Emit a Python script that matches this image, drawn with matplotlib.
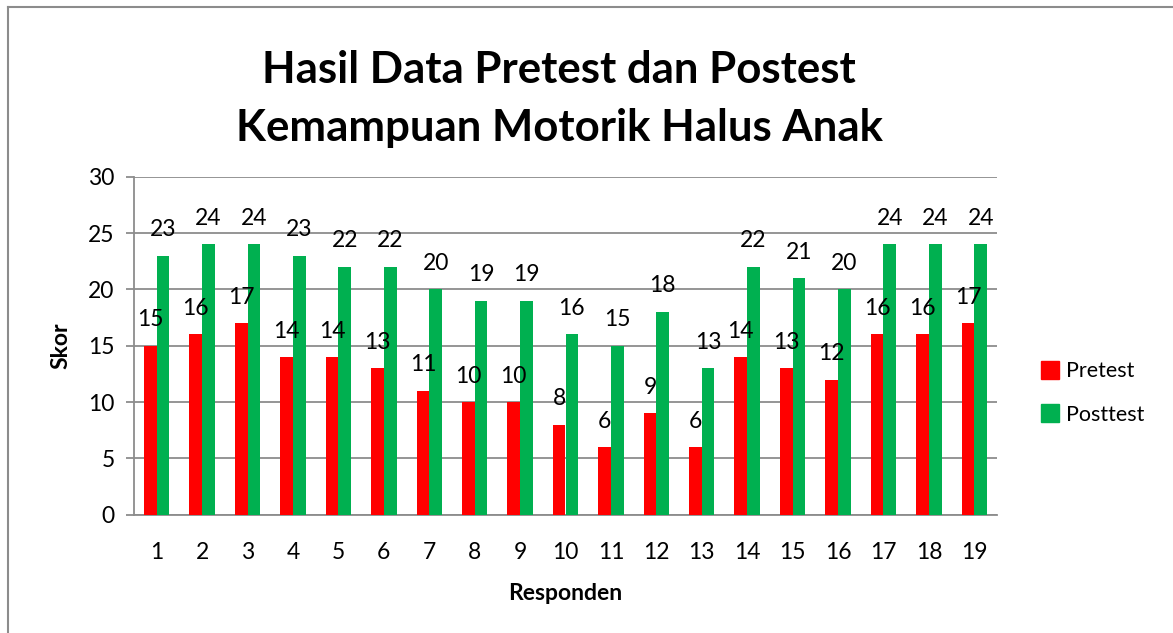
import numpy as np
import matplotlib
matplotlib.use("Agg")
import matplotlib.pyplot as plt
from matplotlib.lines import Line2D

plt.rcParams['font.family'] = ['Lato', 'DejaVu Sans']

responden = [str(i) for i in range(1, 20)]
pretest = [15, 16, 17, 14, 14, 13, 11, 10, 10, 8, 6, 9, 6, 14, 13, 12, 16, 16, 17]
posttest = [23, 24, 24, 23, 22, 22, 20, 19, 19, 16, 15, 18, 13, 22, 21, 20, 24, 24, 24]

W, H = 1173, 633
fig = plt.figure(figsize=(W / 100, H / 100), dpi=100)
ax = fig.add_axes([134 / W, 1 - 514.7 / H, (997 - 134) / W, (514.7 - 176.7) / H])

x = np.arange(len(responden))
bw = 0.28
b1 = ax.bar(x - bw / 2, pretest, bw, color='#FF0000', label='Pretest', zorder=3)
b2 = ax.bar(x + bw / 2, posttest, bw, color='#00B050', label='Posttest', zorder=3)

for bars in (b1, b2):
    for r in bars:
        ax.annotate(str(int(r.get_height())), (r.get_x() + r.get_width() / 2, r.get_height()),
                    xytext=(0, 14), textcoords='offset points', ha='center', va='baseline',
                    fontsize=16.5, zorder=4)

ax.set_xlim(-0.5, len(responden) - 0.5)
ax.set_ylim(0, 30)
ax.set_yticks(range(0, 31, 5))
ax.set_xticks(x)
ax.set_xticklabels(responden)
ax.grid(axis='y', color='#8c8c8c', linewidth=1.3, zorder=0)
for s in ['top', 'right']:
    ax.spines[s].set_visible(False)
for s in ['left', 'bottom']:
    ax.spines[s].set_color('#8c8c8c')
    ax.spines[s].set_linewidth(1.3)
ax.tick_params(axis='y', length=6, width=1.3, color='#8c8c8c', labelsize=16.5, pad=8)
ax.tick_params(axis='x', length=0, labelsize=16.5, pad=20)

ax.set_xlabel('Responden', fontsize=16.5, fontweight='bold', labelpad=14)
ax.set_ylabel('Skor', fontsize=16.5, fontweight='bold', labelpad=12)

fig.text(559 / W, 1 - 99 / H, 'Hasil Data Pretest dan Postest\nKemampuan Motorik Halus Anak',
         ha='center', va='center', fontsize=31.5, fontweight='bold', linespacing=1.55)

handles = [Line2D([], [], marker='s', linestyle='', color='#FF0000', markersize=13),
           Line2D([], [], marker='s', linestyle='', color='#00B050', markersize=13)]
fig.legend(handles, ['Pretest', 'Posttest'], loc='center left',
           bbox_to_anchor=(1022 / W, 1 - 393 / H), frameon=False, fontsize=15.5,
           handlelength=0.8, handletextpad=0.35, labelspacing=1.1)

# outer chart border (only left and top visible in the crop)
fig.add_artist(Line2D([8 / W, 8 / W], [0, 1 - 7 / H], transform=fig.transFigure,
                      color='#8c8c8c', linewidth=1.5))
fig.add_artist(Line2D([8 / W, 1], [1 - 7 / H, 1 - 7 / H], transform=fig.transFigure,
                      color='#8c8c8c', linewidth=1.5))

fig.savefig('out.png', dpi=100)
